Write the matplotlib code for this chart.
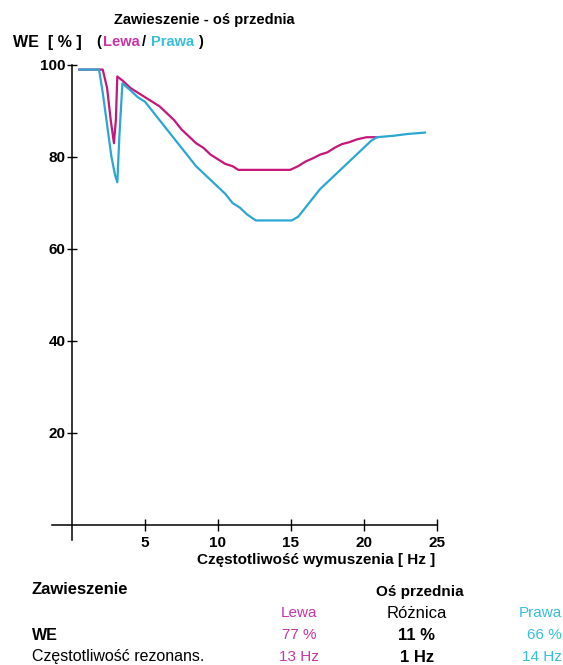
import matplotlib
matplotlib.use("Agg")
import matplotlib.pyplot as plt

plt.rcParams['font.family'] = ['Liberation Sans', 'DejaVu Sans']

# WE [%] vs excitation frequency [Hz]
lewa_hz = [0.5, 2.1, 2.4, 2.65, 2.87, 3.0, 3.1, 3.5, 4.0, 4.5, 5.0, 5.5, 6.0, 6.5, 7.0, 7.5,
           8.0, 8.5, 9.0, 9.5, 10.0, 10.5, 11.0, 11.4, 14.95, 15.5, 16.0, 16.5, 17.0, 17.5,
           18.0, 18.5, 19.0, 19.5, 20.2, 20.9]
lewa_we = [99, 99, 95, 88, 83, 88, 97.5, 96.5, 95, 94, 93, 92, 91, 89.5, 88, 86,
           84.5, 83, 82, 80.5, 79.5, 78.5, 78, 77.2, 77.2, 78, 79, 79.7, 80.5, 81,
           82, 82.8, 83.2, 83.8, 84.3, 84.3]

prawa_hz = [0.5, 1.85, 2.1, 2.4, 2.7, 2.95, 3.1, 3.25, 3.45, 4.0, 4.5, 5.0, 5.5, 6.0, 6.5,
            7.0, 7.5, 8.0, 8.5, 9.0, 9.5, 10.0, 10.5, 11.0, 11.5, 12.0, 12.6, 15.06, 15.5,
            16.0, 16.5, 17.0, 17.5, 18.0, 18.5, 19.0, 19.5, 20.0, 20.5, 20.9, 22.0, 23.0, 24.2]
prawa_we = [99, 99, 94, 87, 80, 76, 74.5, 85, 96, 94.5, 93, 92, 90, 88, 86,
            84, 82, 80, 78, 76.5, 75, 73.5, 72, 70, 69, 67.5, 66.2, 66.2, 67,
            69, 71, 73, 74.5, 76, 77.5, 79, 80.5, 82, 83.5, 84.3, 84.6, 85, 85.3]

x_ticks = [5, 10, 15, 20, 25]
y_ticks = [20, 40, 60, 80, 100]

row_labels = ["WE", "Częstotliwość rezonans."]
lewa_vals = ["77 %", "13 Hz"]
roznica_vals = ["11 %", "1 Hz"]
prawa_vals = ["66 %", "14 Hz"]

c_lewa = '#c4177c'
c_prawa = '#2aa7d2'
t_lewa = '#c935a3'
t_prawa = '#36bfdc'

W, H = 563, 665
fig = plt.figure(figsize=(W / 100, H / 100), dpi=100)
ax = fig.add_axes([0.0892, 0.1829, 0.7123, 0.7263])

ax.plot(lewa_hz, lewa_we, color=c_lewa, linewidth=1.6)
ax.plot(prawa_hz, prawa_we, color=c_prawa, linewidth=1.6)

ax.set_xlim(-1.5, 26)
ax.set_ylim(-4, 101)
for s in ['top', 'right']:
    ax.spines[s].set_visible(False)
ax.spines['left'].set_position(('data', 0))
ax.spines['bottom'].set_position(('data', 0))
ax.spines['left'].set_bounds(-3.3, 100)
ax.spines['bottom'].set_bounds(-1.4, 25)
ax.spines['left'].set_linewidth(1.1)
ax.spines['bottom'].set_linewidth(1.1)

ax.set_xticks(x_ticks)
ax.set_yticks(y_ticks)
ax.tick_params(axis='x', direction='inout', length=8, width=1, pad=4, labelsize=11)
ax.tick_params(axis='y', direction='inout', length=7, width=1, pad=1, labelsize=11)
for lab in ax.get_xticklabels() + ax.get_yticklabels():
    lab.set_fontweight('bold')


def px(x, y, s, **kw):
    fig.text(x / W, 1 - y / H, s, va='center', **kw)


px(204, 20, "Zawieszenie - oś przednia", ha='center', fontsize=10.5, fontweight='bold')
px(13, 42, "WE  [ % ]", ha='left', fontsize=11.5, fontweight='bold')
px(98.5, 42, "(", ha='center', fontsize=10.5, fontweight='bold')
px(121.5, 42, "Lewa", ha='center', fontsize=10.5, fontweight='bold', color=t_lewa)
px(144, 42, "/", ha='center', fontsize=10.5, fontweight='bold')
px(172.5, 42, "Prawa", ha='center', fontsize=10.5, fontweight='bold', color=t_prawa)
px(200, 42, ")", ha='center', fontsize=10.5, fontweight='bold')

px(435, 560, "Częstotliwość wymuszenia [ Hz ]", ha='right', fontsize=11, fontweight='bold')

px(32, 589, "Zawieszenie", ha='left', fontsize=12, fontweight='bold')
px(420, 592, "Oś przednia", ha='center', fontsize=11, fontweight='bold')
px(299, 613, "Lewa", ha='center', fontsize=11, color=t_lewa)
px(417, 613, "Różnica", ha='center', fontsize=12)
px(562, 613, "Prawa", ha='right', fontsize=11, color=t_prawa)

row_y = [635, 657]
for i, y in enumerate(row_y):
    px(32, y, row_labels[i], ha='left', fontsize=11.5, fontweight='bold' if i == 0 else 'normal')
    px(299, y, lewa_vals[i], ha='center', fontsize=11, color=t_lewa)
    px(417, y, roznica_vals[i], ha='center', fontsize=12, fontweight='bold')
    px(562, y, prawa_vals[i], ha='right', fontsize=11, color=t_prawa)

fig.savefig("out.png", dpi=100)
